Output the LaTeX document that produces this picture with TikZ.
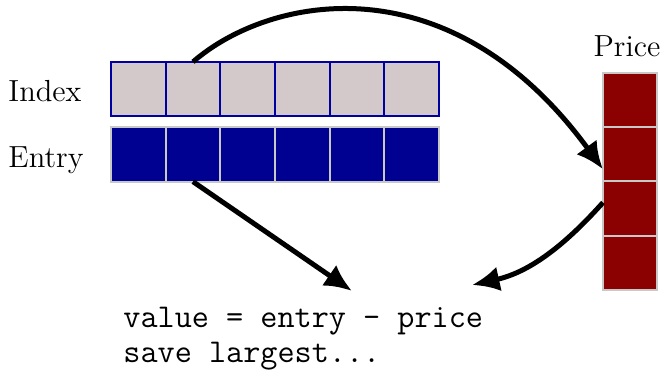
\documentclass[tikz,border=0pt]{standalone}
\usetikzlibrary{arrows.meta,calc}
\definecolor{idxfill}{RGB}{211,200,202}
\definecolor{idxdraw}{RGB}{0,0,160}
\definecolor{entfill}{RGB}{0,0,145}
\definecolor{prfill}{RGB}{139,0,0}
\definecolor{lightline}{RGB}{200,200,200}
\begin{document}
\begin{tikzpicture}[x=0.4pt,y=-0.4pt,
  cell/.style={draw,line width=0.75pt,minimum width=21.87pt,minimum height=21.7pt,inner sep=0pt,outer sep=0pt},
  idxcell/.style={cell,fill=idxfill,draw=idxdraw},
  entcell/.style={cell,fill=entfill,draw=lightline},
  prcell/.style={cell,fill=prfill,draw=lightline,minimum width=21.6pt},
  lbl/.style={inner sep=0pt,font=\fontsize{12.2}{14}\selectfont},
  code/.style={inner sep=0pt,font=\fontsize{13.3}{14}\selectfont\ttfamily},
  arr/.style={line width=2pt,-{Latex[length=11pt,width=10pt]}}]
\useasboundingbox (0,0) rectangle (663,375);
\foreach \i in {0,...,5}{
  \node[idxcell] (i\i) at ({138.3+54.67*\i},89) {};
  \node[entcell] (e\i) at ({138.3+54.67*\i},154.5) {};
}
\foreach \j in {0,...,3}{
  \node[prcell] (p\j) at (630,{100+54.25*\j}) {};
}
\node[lbl,anchor=base west] (lidx) at (8,101) {Index};
\node[lbl,anchor=base west] (lent) at (8,167) {Entry};
\node[lbl,anchor=base] (lpr) at (627,56) {Price};
\node[code,anchor=base west] (v1) at (123,327) {value = entry - price};
\node[code,anchor=base west] (v2) at (123,362) {save largest...};
\coordinate (t1) at (352,291);
\coordinate (t2) at (472,285);
\draw[arr] (i1.north) .. controls (270,-5) and (450,-40) .. ($(p2.north west)+(0,-12)$);
\draw[arr] (e1.south) -- (t1);
\draw[arr] ($(p2.west)+(0,-6)$) .. controls (565,245) and (530,272) .. (t2);
\end{tikzpicture}
\end{document}
